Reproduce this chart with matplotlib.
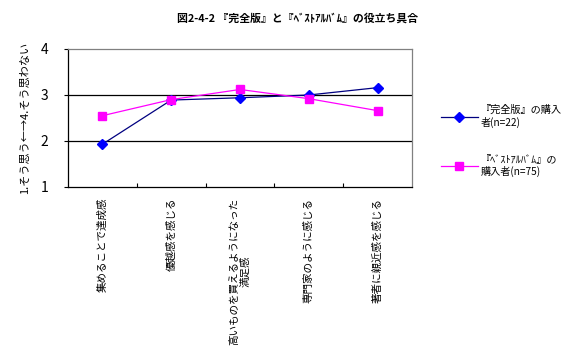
import matplotlib
matplotlib.use("Agg")
import matplotlib.pyplot as plt

plt.rcParams['font.family'] = ['Noto Sans CJK JP', 'DejaVu Sans']

categories = ["集めることで達成感", "優越感を感じる", "高いものを買えるようになった\n満足感",
              "専門家のように感じる", "著者に親近感を感じる"]
series_names = ["『完全版』の購入\n者(n=22)", "『ﾍﾞｽﾄｱﾙﾊﾞﾑ』の\n購入者(n=75)"]
complete = [1.93, 2.89, 2.94, 3.00, 3.16]
best = [2.55, 2.90, 3.12, 2.92, 2.66]
yticks = [1, 2, 3, 4]
title = "図2-4-2 『完全版』と『ﾍﾞｽﾄｱﾙﾊﾞﾑ』の役立ち具合"
ylabel = "1.そう思う←→4.そう思わない"

fig = plt.figure(figsize=(5.64, 3.5), dpi=100)
ax = fig.add_axes([68/564, 1-187/350, 344/564, 138/350])

x = list(range(len(categories)))
ax.plot(x, complete, color='#000080', lw=0.9, marker='D', ms=5,
        mfc='#0000ff', mec='#0000ff', label=series_names[0], zorder=3)
ax.plot(x, best, color='#ff00ff', lw=0.9, marker='s', ms=5.5,
        mfc='#ff00ff', mec='#ff00ff', label=series_names[1], zorder=3)

ax.set_xlim(-0.5, len(categories) - 0.5)
ax.set_ylim(1, 4)
ax.set_yticks(yticks)
ax.set_yticklabels([str(v) for v in yticks], fontsize=10)
for yv in [2, 3]:
    ax.axhline(yv, color='black', lw=0.9, zorder=1)

ax.set_xticks([i + 0.5 for i in range(len(categories) - 1)])
ax.set_xticklabels([])
ax.tick_params(axis='x', direction='in', length=3, width=0.8)
ax.tick_params(axis='y', direction='out', length=3, width=0.8, pad=11)

for i, c in enumerate(categories):
    ax.text(i, 0.77, c, rotation=90, ha='center', va='top',
            fontsize=7.6, multialignment='center')

ax.spines['top'].set_color('#808080')
ax.spines['right'].set_color('#808080')
ax.spines['left'].set_color('black')
ax.spines['bottom'].set_color('black')
for s in ax.spines.values():
    s.set_linewidth(0.9)

ax.set_ylabel(ylabel, fontsize=8, labelpad=8)

fig.text(298/564, 1-18/350, title, ha='center', va='center', fontsize=7.8, fontweight='bold')

leg = ax.legend(loc='upper left', bbox_to_anchor=(437/564, 1-101/350),
                bbox_transform=fig.transFigure, frameon=False, fontsize=7.3,
                labelspacing=2.6, handlelength=3.6, handletextpad=0.3,
                borderaxespad=0)

fig.savefig("out.png", dpi=100)
